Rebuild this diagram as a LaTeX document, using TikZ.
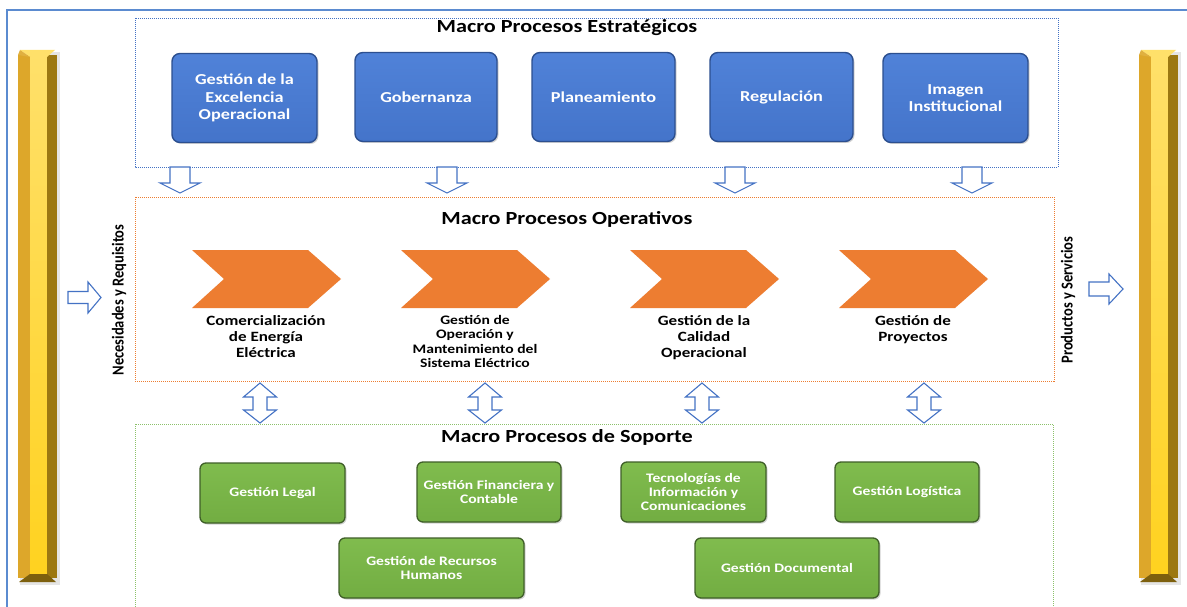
\documentclass[tikz,border=0pt]{standalone}
\usepackage{fontspec}
\setmainfont{Carlito}[FakeStretch=1.2]
\newfontfamily\sidefont{Carlito}
\usetikzlibrary{shadows,calc}
\definecolor{frameblue}{HTML}{5B8BD0}
\definecolor{boxblue}{HTML}{4A7BD3}
\definecolor{boxblueT}{HTML}{5082D8}
\definecolor{boxblueB}{HTML}{4474CA}
\definecolor{boxblueD}{HTML}{2C4F8F}
\definecolor{boxgreen}{HTML}{7AB648}
\definecolor{boxgreenT}{HTML}{80BC4E}
\definecolor{boxgreenB}{HTML}{72AD42}
\definecolor{boxgreenD}{HTML}{3F5F28}
\definecolor{chevorange}{HTML}{ED7D31}
\definecolor{arrblue}{HTML}{4472C4}
\definecolor{dotgreen}{HTML}{8CC16A}
\definecolor{goldL}{HTML}{DDA72A}
\definecolor{goldM}{HTML}{FFD21F}
\definecolor{goldT}{HTML}{FFE06A}
\definecolor{goldR}{HTML}{9C7812}
\tikzset{
  dotbox/.style={line width=0.8pt, dash pattern=on 1pt off 1pt},
  bluebox/.style={rectangle, rounded corners=8pt, top color=boxblueT, bottom color=boxblueB, draw=boxblueD, line width=1.4pt,
    text=white, font=\fontsize{15.2}{17.5}\selectfont\bfseries, align=center, inner sep=2pt,
    drop shadow={shadow xshift=1.5pt, shadow yshift=-1.5pt, opacity=0.35}},
  greenbox/.style={rectangle, rounded corners=6pt, top color=boxgreenT, bottom color=boxgreenB, draw=boxgreenD, line width=1.3pt,
    text=white, font=\fontsize{13}{14.3}\selectfont\bfseries, align=center, inner sep=2pt,
    drop shadow={shadow xshift=1.5pt, shadow yshift=-1.5pt, opacity=0.35}},
  titletxt/.style={font=\fontsize{18.5}{21}\selectfont\bfseries, text=black},
  chevlabel/.style={font=\fontsize{14.2}{16}\selectfont\bfseries, align=center, anchor=north, inner sep=0pt},
  blockarrow/.style={draw=arrblue, line width=1.1pt, fill=white, line join=miter},
  chevron/.style={fill=chevorange},
  sidetxt/.style={font=\fontsize{14.5}{16}\sidefont\bfseries, rotate=90, inner sep=0pt},
}
\begin{document}
\begin{tikzpicture}[x=1pt,y=-1pt]
\useasboundingbox (0,0) rectangle (1187,607);
\clip (0,0) rectangle (1187,607);
\fill[white] (0,0) rectangle (1187,607);
% outer frame
\draw[frameblue, line width=1.6pt] (7,620) -- (7,10) -- (1200,10);
% pillars
\foreach \px in {18,1139}{
  \fill[gray!40, opacity=0.5] (\px+2,52) rectangle (\px+42,585);
  \fill[goldL] (\px,55) rectangle (\px+12,578);
  \shade[top color=goldT, bottom color=goldM] (\px+12,55) rectangle (\px+29,578);
  \fill[goldR] (\px+29,55) rectangle (\px+39,578);
  \fill[goldT] (\px+2,50) -- (\px+37,50) -- (\px+29,57) -- (\px+12,57) -- cycle;
  \fill[goldL!90!white] (\px,55) -- (\px+2,50) -- (\px+12,57) -- cycle;
  \fill[goldR!80!black] (\px+12,574) -- (\px+29,574) -- (\px+38,582) -- (\px+1,582) -- cycle;
}
% group boxes
\draw[dotbox, arrblue] (135,18) rectangle (1058,167);
\draw[dotbox, chevorange] (135,197) rectangle (1054,381);
\draw[dotbox, dotgreen] (135,424) rectangle (1053,620);
% titles
\node[titletxt] (t1) at (567,28) {Macro Procesos Estratégicos};
\node[titletxt] (t2) at (567,219) {Macro Procesos Operativos};
\node[titletxt] (t3) at (567,437) {Macro Procesos de Soporte};
% strategic boxes
\node[bluebox, minimum width=145pt, minimum height=89pt] (b1) at (244.5,98) {Gestión de la\\Excelencia\\Operacional};
\node[bluebox, minimum width=142pt, minimum height=89pt] (b2) at (426,97) {Gobernanza};
\node[bluebox, minimum width=143pt, minimum height=89pt] (b3) at (603.5,97) {Planeamiento};
\node[bluebox, minimum width=143pt, minimum height=89pt] (b4) at (781.5,97) {Regulación};
\node[bluebox, minimum width=145pt, minimum height=89pt] (b5) at (955.5,98) {Imagen\\Institucional};
% down arrows
\foreach \cx in {180,447,735,972}{
  \draw[blockarrow] (\cx-10,167) -- (\cx+10,167) -- (\cx+10,183) -- (\cx+20,183) -- (\cx,193) -- (\cx-20,183) -- (\cx-10,183) -- cycle;
}
% chevrons
\foreach \x/\n in {192/c1,401/c2,630/c3,839/c4}{
  \fill[chevron] (\x,250) -- (\x+116,250) -- (\x+149,279) -- (\x+116,308) -- (\x,308) -- (\x+32,279) -- cycle;
  \coordinate (\n) at (\x+74,315);
}
\node[chevlabel] (l1) at ($(c1)+(0,0)$) {Comercialización\\de Energía\\Eléctrica};
\node[chevlabel, font=\fontsize{13}{14.5}\selectfont\bfseries] (l2) at (c2) {Gestión de\\Operación y\\Mantenimiento del\\Sistema Eléctrico};
\node[chevlabel] (l3) at (c3) {Gestión de la\\Calidad\\Operacional};
\node[chevlabel] (l4) at (c4) {Gestión de\\Proyectos};
% side texts
\node[sidetxt] (n1) at (119,300) {\scalebox{1}[1.15]{Necesidades y Requisitos}};
\node[sidetxt] (n2) at (1068,300) {\scalebox{1}[1.15]{Productos y Servicios}};
% side arrows
\draw[blockarrow] (68,291.5) -- (88,291.5) -- (88,282) -- (101,297.5) -- (88,313) -- (88,303.5) -- (68,303.5) -- cycle;
\draw[blockarrow] (1089,282) -- (1109,282) -- (1109,274) -- (1123,289) -- (1109,304) -- (1109,296) -- (1089,296) -- cycle;
% double arrows
\foreach \cx in {260,485,702,924}{
  \draw[blockarrow] (\cx,383) -- (\cx+16.5,397) -- (\cx+7,397) -- (\cx+7,410) -- (\cx+16.5,410) -- (\cx,423) -- (\cx-16.5,410) -- (\cx-7,410) -- (\cx-7,397) -- (\cx-16.5,397) -- cycle;
}
% support boxes
\node[greenbox, minimum width=145pt, minimum height=60pt] (g1) at (272.5,493) {Gestión Legal};
\node[greenbox, minimum width=144pt, minimum height=60pt] (g2) at (489,492) {Gestión Financiera y\\Contable};
\node[greenbox, minimum width=145pt, minimum height=60pt] (g3) at (693.5,492) {Tecnologías de\\Información y\\Comunicaciones};
\node[greenbox, minimum width=144pt, minimum height=60pt] (g4) at (907,492) {Gestión Logística};
\node[greenbox, minimum width=185pt, minimum height=60pt] (g5) at (431.5,568) {Gestión de Recursos\\Humanos};
\node[greenbox, minimum width=184pt, minimum height=60pt] (g6) at (787,568) {Gestión Documental};
\end{tikzpicture}
\end{document}
